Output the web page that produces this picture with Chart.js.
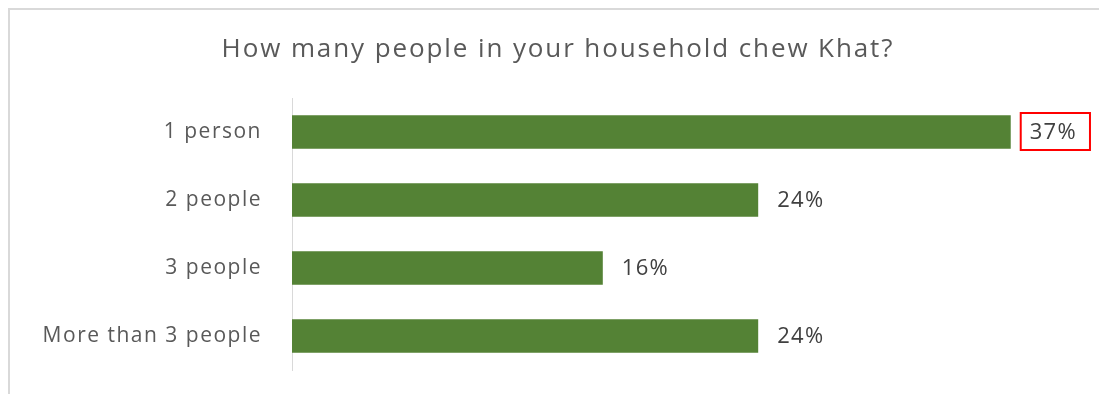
<!DOCTYPE html>
<html>
<head>
<meta charset="utf-8">
<script src="https://cdn.jsdelivr.net/npm/chart.js@4.4.0/dist/chart.umd.min.js"></script>
<style>
  html, body { margin: 0; padding: 0; background: #fff; }
  #wrap { width: 1099px; height: 394px; position: relative; }
</style>
</head>
<body>
<div id="wrap"><canvas id="khatChart"></canvas></div>
<script>
const categories = ['1 person', '2 people', '3 people', 'More than 3 people'];
const shares = [37, 24, 16, 24];
const valueLabels = ['37%', '24%', '16%', '24%'];
const titleText = 'How many people in your household chew Khat?';
const boxedLabel = 0;

// light frame along the top and left edge, plus the title
const frame = {
  id: 'frame',
  beforeDraw(chart) {
    const ctx = chart.ctx;
    ctx.save();
    ctx.strokeStyle = '#d9d9d9';
    ctx.lineWidth = 2;
    ctx.beginPath();
    ctx.moveTo(9, 394);
    ctx.lineTo(9, 9);
    ctx.lineTo(1099, 9);
    ctx.stroke();

    ctx.font = '26px "Open Sans"';
    ctx.letterSpacing = '1.9px';
    ctx.fillStyle = '#595959';
    ctx.textAlign = 'center';
    ctx.textBaseline = 'alphabetic';
    ctx.fillText(titleText, 558, 57);
    ctx.restore();
    // wider tracking for the category labels
    ctx.letterSpacing = '1.5px';
  }
};

// percent labels at the end of each bar
const barLabels = {
  id: 'barLabels',
  afterDatasetsDraw(chart) {
    const ctx = chart.ctx;
    const meta = chart.getDatasetMeta(0);
    ctx.save();
    ctx.font = '22px "Open Sans"';
    ctx.letterSpacing = '1.3px';
    ctx.fillStyle = '#404040';
    ctx.textBaseline = 'middle';
    meta.data.forEach((bar, i) => {
      const x = bar.x + 19;
      const y = bar.y + 1;
      ctx.fillText(valueLabels[i], x, y);
      if (i === boxedLabel) {
        const w = ctx.measureText(valueLabels[i]).width;
        ctx.strokeStyle = '#ff0000';
        ctx.lineWidth = 2;
        ctx.strokeRect(x - 9, y - 20, w + 22, 37);
      }
    });
    ctx.restore();
  }
};

new Chart(document.getElementById('khatChart'), {
  type: 'bar',
  data: {
    labels: categories,
    datasets: [{
      data: shares,
      backgroundColor: '#548235',
      borderWidth: 0,
      barPercentage: 0.49,
      categoryPercentage: 1
    }]
  },
  options: {
    indexAxis: 'y',
    responsive: true,
    maintainAspectRatio: false,
    animation: false,
    layout: { padding: { top: 98, right: 30, bottom: 24, left: 0 } },
    plugins: {
      legend: { display: false },
      tooltip: { enabled: false },
      title: { display: false }
    },
    scales: {
      x: {
        display: false,
        min: 0,
        max: 40
      },
      y: {
        afterFit(scale) {
          scale.width = 292;
          scale.paddingTop = 0;
          scale.paddingBottom = 0;
        },
        grid: { display: false, drawTicks: false },
        border: { display: true, color: '#d9d9d9', width: 1 },
        ticks: {
          color: '#595959',
          padding: 30,
          font: { family: 'Open Sans', size: 21 }
        }
      }
    }
  },
  plugins: [frame, barLabels]
});
</script>
</body>
</html>
